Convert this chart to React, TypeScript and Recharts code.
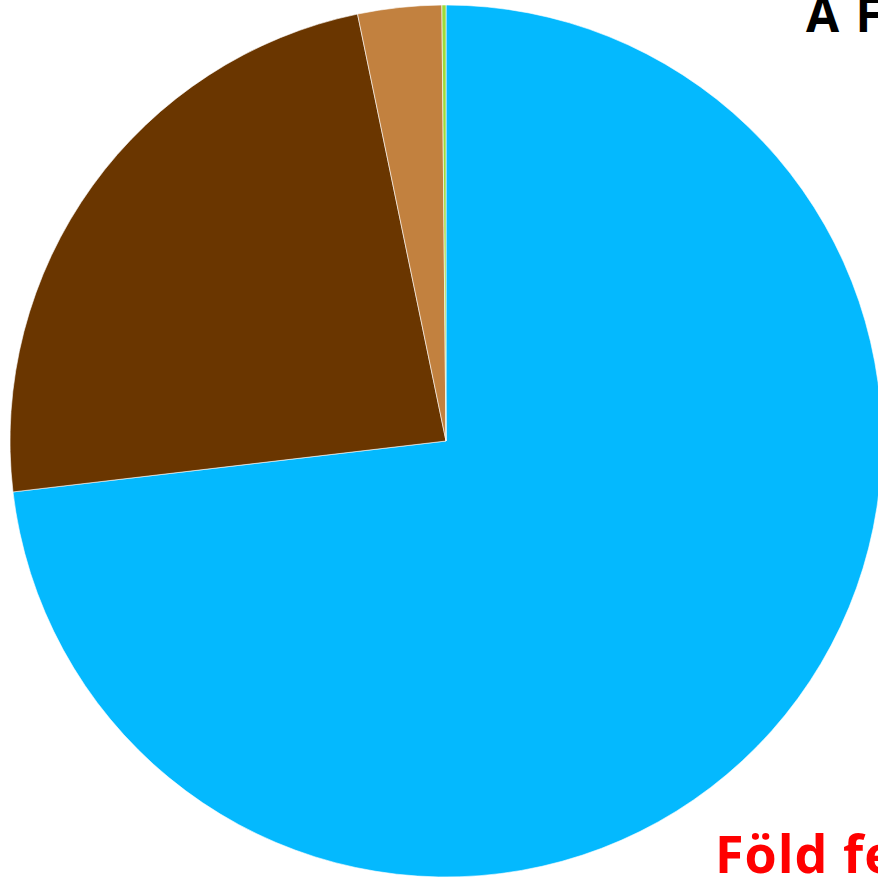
import { PieChart, Pie, Cell } from 'recharts';

const names = ['Óceánok', 'Szárazföld', 'Jég', 'Édesvíz'];
const values = [73.1, 23.6, 3.1, 0.15];
const colors = ['#04B9FE', '#6A3600', '#C2813F', '#9CDB3C'];

const data = names.map((n, i) => ({ name: n, value: values[i] }));

const textBase = {
  position: 'absolute' as const,
  fontFamily: '"Open Sans", sans-serif',
  fontWeight: 700,
  lineHeight: 1,
  whiteSpace: 'nowrap' as const,
};

export default function App() {
  return (
    <div style={{ position: 'fixed', left: 0, top: 0, width: 878, height: 879, overflow: 'hidden', background: '#fff' }}>
      <PieChart width={878} height={879} margin={{ top: 0, right: 0, bottom: 0, left: 0 }}>
        <Pie
          data={data}
          dataKey="value"
          nameKey="name"
          cx={446}
          cy={441}
          outerRadius={436}
          startAngle={90}
          endAngle={-270}
          stroke="#ffffff"
          strokeWidth={0.6}
          isAnimationActive={false}
        >
          {data.map((d, i) => <Cell key={d.name} fill={colors[i]} />)}
        </Pie>
      </PieChart>
      <div style={{ ...textBase, left: 806, top: -10, fontSize: 48, letterSpacing: 2, color: '#000' }}>
        A F
      </div>
      <div style={{ ...textBase, left: 715, top: 827, fontSize: 52, letterSpacing: 1, color: '#FF0000' }}>
        Föld fe
      </div>
    </div>
  );
}
